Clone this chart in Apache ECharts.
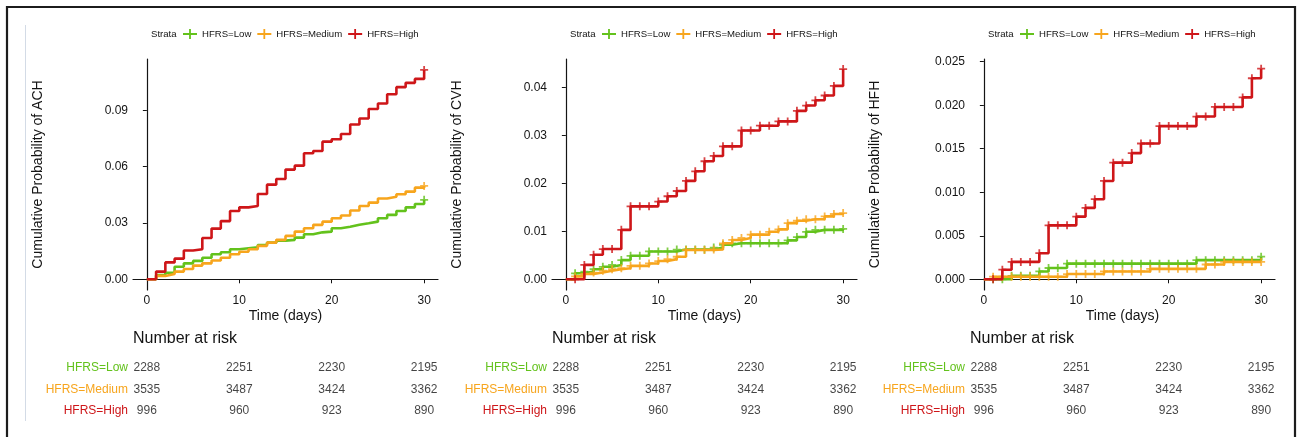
<!DOCTYPE html>
<html><head><meta charset="utf-8">
<script src="https://cdn.jsdelivr.net/npm/echarts@6/dist/echarts.min.js"></script>
<style>html,body{margin:0;padding:0;background:#fff}#c{width:1298px;height:437px}</style>
</head><body><div id="c"></div>
<script>
// ---------- data ----------
const days = [0,1,2,3,4,5,6,7,8,9,10,11,12,13,14,15,16,17,18,19,20,21,22,23,24,25,26,27,28,29,30];
const strata = ['HFRS=Low','HFRS=Medium','HFRS=High'];

const achLow    = [0,0.0023,0.0035,0.0067,0.0085,0.0098,0.0115,0.0133,0.0144,0.016,0.0165,0.017,0.0183,0.0195,0.0206,0.021,0.0222,0.024,0.025,0.0254,0.0272,0.028,0.029,0.0298,0.0307,0.0325,0.0343,0.0364,0.0383,0.0401,0.0423];
const achMedium = [0,0.0018,0.0028,0.0041,0.0055,0.0073,0.0085,0.01,0.0115,0.0133,0.0147,0.016,0.0178,0.0195,0.021,0.0231,0.0254,0.0272,0.029,0.0307,0.0325,0.034,0.0366,0.039,0.0408,0.043,0.044,0.0453,0.0467,0.0488,0.0497];
const achHigh   = [0,0.0041,0.009,0.011,0.0153,0.016,0.022,0.027,0.031,0.0364,0.0383,0.039,0.0454,0.0504,0.0534,0.0584,0.0605,0.0671,0.0683,0.0733,0.0746,0.0774,0.0824,0.0856,0.0907,0.0936,0.0985,0.1023,0.1046,0.1067,0.1115];

const cvhLow    = [0,0.00125,0.0016,0.0021,0.0026,0.003,0.004,0.0049,0.0049,0.0058,0.0058,0.0058,0.0062,0.0062,0.0062,0.0062,0.0066,0.0072,0.0075,0.0075,0.0075,0.0075,0.0075,0.0075,0.0081,0.0088,0.0099,0.0103,0.0103,0.0103,0.0105];
const cvhMedium = [0,0.0006,0.0011,0.0014,0.0018,0.0021,0.0023,0.0028,0.0028,0.0033,0.0038,0.0042,0.0047,0.0061,0.0061,0.0061,0.0062,0.0075,0.0082,0.0086,0.0093,0.0093,0.0099,0.0104,0.0117,0.0122,0.0125,0.0125,0.0131,0.0136,0.0138];
const cvhHigh   = [0,0,0.003,0.0051,0.0063,0.0063,0.0103,0.0152,0.0152,0.0152,0.0162,0.0173,0.0184,0.0205,0.0225,0.0246,0.0257,0.0277,0.0277,0.031,0.031,0.032,0.032,0.0329,0.0329,0.0351,0.0362,0.0373,0.0383,0.0403,0.0438];

const hfhLow    = [0,0,0,0.0004,0.0004,0.0004,0.0009,0.0013,0.0013,0.0018,0.0018,0.0018,0.0018,0.0018,0.0018,0.0018,0.0018,0.0018,0.0018,0.0018,0.0018,0.0018,0.0018,0.0022,0.0022,0.0022,0.0022,0.0022,0.0022,0.0022,0.0026];
const hfhMedium = [0,0.0003,0.0003,0.0003,0.0003,0.0003,0.0003,0.0003,0.0003,0.0006,0.0006,0.0006,0.0006,0.0009,0.0009,0.0009,0.0009,0.0009,0.0012,0.0012,0.0012,0.0012,0.0012,0.0012,0.0017,0.0017,0.002,0.002,0.002,0.002,0.002];
const hfhHigh   = [0,0,0.0011,0.002,0.002,0.002,0.003,0.0062,0.0062,0.0062,0.0072,0.0082,0.0092,0.0113,0.0134,0.0134,0.0145,0.0156,0.0156,0.0176,0.0176,0.0176,0.0176,0.0187,0.0187,0.0198,0.0198,0.0198,0.0209,0.0231,0.0242];

const achCensorDays = [30];
const allCensorDays = [1,2,3,4,5,6,7,8,9,10,11,12,13,14,15,16,17,18,19,20,21,22,23,24,25,26,27,28,29,30];

const xTicks = [0,10,20,30];
const achTicks = [0,0.03,0.06,0.09];
const cvhTicks = [0,0.01,0.02,0.03,0.04];
const hfhTicks = [0,0.005,0.01,0.015,0.02,0.025];

const riskTimes  = [0,10,20,30];
const riskLow    = [2288,2251,2230,2195];
const riskMedium = [3535,3487,3424,3362];
const riskHigh   = [996,960,923,890];

// ---------- styling / layout ----------
const colors = ['#63C21C','#F7A51D','#CE1619'];
const txt = '#141414';
const plotLeft = [133,552,970];
const plotW = 305;
const panels = [
  {name:'ACH', series:[achLow,achMedium,achHigh], ticks:achTicks, dec:2, ymin:-0.0057, ymax:0.1173, censor:achCensorDays},
  {name:'CVH', series:[cvhLow,cvhMedium,cvhHigh], ticks:cvhTicks, dec:2, ymin:-0.00223, ymax:0.0459, censor:allCensorDays},
  {name:'HFH', series:[hfhLow,hfhMedium,hfhHigh], ticks:hfhTicks, dec:3, ymin:-0.00123, ymax:0.02531, censor:allCensorDays}
];
const riskRows = [riskLow, riskMedium, riskHigh];
const plusPath = 'path://M3.1,0H4.9V3.1H8V4.9H4.9V8H3.1V4.9H0V3.1H3.1Z';
const legendIcon = 'path://M0,4.1H6.1V0H7.9V4.1H14V5.9H7.9V10H6.1V5.9H0Z';

const grid = [], xAxis = [], yAxis = [], series = [], legend = [], title = [];
panels.forEach((p, pi) => {
  grid.push({left: plotLeft[pi], top: 59, width: plotW, height: 231});
  xAxis.push({
    type:'value', gridIndex: grid.length-1, min:-1.5, max:31.5,
    axisLine:{lineStyle:{color:txt, width:1.2}},
    axisTick:{length:4, customValues:xTicks, lineStyle:{color:txt}},
    axisLabel:{customValues:xTicks, fontSize:12, color:txt, margin:5, fontFamily:'Liberation Sans'},
    splitLine:{show:false},
    name:'Time (days)', nameLocation:'middle', nameGap:19, nameMoveOverlap:false,
    nameTextStyle:{fontSize:14, color:txt, fontFamily:'Liberation Sans'}
  });
  yAxis.push({
    type:'value', gridIndex: grid.length-1, min:p.ymin, max:p.ymax,
    axisLine:{show:true, lineStyle:{color:txt, width:1.2}},
    axisTick:{show:true, length:4, customValues:p.ticks, lineStyle:{color:txt}},
    axisLabel:{customValues:p.ticks, fontSize:12, color:txt, margin:5, fontFamily:'Liberation Sans',
      formatter:(v)=>Number(v).toFixed(p.dec)},
    splitLine:{show:false},
    name:'Cumulative Probability of ' + p.name, nameLocation:'middle', nameGap:88,
    nameTextStyle:{fontSize:14, color:txt, fontFamily:'Liberation Sans'}
  });
  const gi = grid.length-1;
  p.series.forEach((vals, si) => {
    series.push({
      type:'line', name:strata[si], xAxisIndex:gi, yAxisIndex:gi, step:'end',
      data: days.map((d,i)=>[d, vals[i]]), showSymbol:false, symbol:'none',
      color:colors[si], lineStyle:{width:2.6, color:colors[si]}, animation:false, z:2+si
    });
    series.push({
      type:'scatter', name:strata[si], xAxisIndex:gi, yAxisIndex:gi,
      data: p.censor.map(d=>[d, vals[days.indexOf(d)]]),
      symbol:plusPath, symbolSize:8, color:colors[si], itemStyle:{color:colors[si]},
      animation:false, z:2+si
    });
  });
  legend.push({
    left: plotLeft[pi]+50, top: 29, data: strata, icon: legendIcon, itemWidth:14, itemHeight:10,
    itemGap:6, padding:0, selectedMode:false,
    textStyle:{fontSize:9.6, color:txt, fontFamily:'Liberation Sans'}
  });
  title.push({text:'Strata', left: plotLeft[pi]+18, top: 29, padding:0,
    textStyle:{fontSize:9.6, fontWeight:'normal', color:txt, fontFamily:'Liberation Sans'}});
  title.push({text:'Number at risk', left: plotLeft[pi], top: 331, padding:0,
    textStyle:{fontSize:16, fontWeight:'normal', color:txt, fontFamily:'Liberation Sans'}});

  grid.push({left: plotLeft[pi], top: 357, width: plotW, height: 64.5});
  const ti = grid.length-1;
  xAxis.push({type:'value', gridIndex:ti, min:-1.5, max:31.5, show:false});
  yAxis.push({type:'category', gridIndex:ti, data:strata, inverse:true,
    axisLine:{show:false}, axisTick:{show:false}, splitLine:{show:false},
    axisLabel:{fontSize:12, margin:5, fontFamily:'Liberation Sans', color:(v, idx)=>colors[strata.indexOf(v)]}
  });
  riskRows.forEach((row, ri) => {
    series.push({
      type:'scatter', xAxisIndex:ti, yAxisIndex:ti, symbolSize:1,
      itemStyle:{color:'rgba(0,0,0,0)'}, animation:false, silent:true,
      data: riskTimes.map((t,k)=>[t, ri, row[k]]),
      label:{show:true, position:'inside', formatter:(q)=>String(q.value[2]),
        fontSize:12, color:txt, fontFamily:'Liberation Sans'}
    });
  });
});

const chart = echarts.init(document.getElementById('c'), null, {renderer:'canvas'});
chart.setOption({
  backgroundColor:'#ffffff',
  animation:false,
  textStyle:{fontFamily:'Liberation Sans'},
  title, legend, grid, xAxis, yAxis, series,
  graphic:[
    {type:'rect', shape:{x:7, y:7, width:1288, height:500}, style:{fill:'none', stroke:'#1c1c1c', lineWidth:2.2}, silent:true},
    {type:'line', shape:{x1:25.5, y1:25, x2:25.5, y2:421}, style:{stroke:'#d3dbe6', lineWidth:1}, silent:true}
  ]
});
</script></body></html>
